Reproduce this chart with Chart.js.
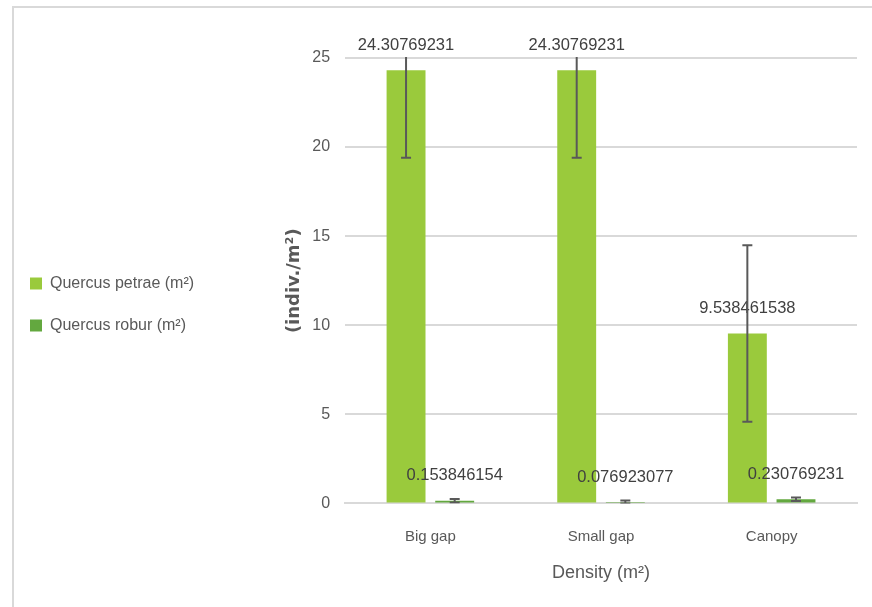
<!DOCTYPE html>
<html>
<head>
<meta charset="utf-8">
<script src="https://cdn.jsdelivr.net/npm/chart.js@4.4.1/dist/chart.umd.min.js"></script>
<style>
body { margin: 0; background: #fff; }
#wrap { position: relative; width: 872px; height: 607px; }
#frame { position: absolute; left: 12px; top: 6px; right: 0; bottom: 0; border-left: 2px solid #d9d9d9; border-top: 2px solid #d9d9d9; pointer-events: none; }
</style>
</head>
<body>
<div id="wrap">
    <canvas id="densityChart" width="872" height="607"></canvas>
    <div id="frame"></div>
</div>
<script>
// values
const categories = ['Big gap', 'Small gap', 'Canopy'];
const petraeValues = [24.30769231, 24.30769231, 9.538461538];
const roburValues = [0.153846154, 0.076923077, 0.230769231];
const petraeErrors = [4.9, 4.9, 4.95];
const roburErrors = [0.1, 0.08, 0.1];
const yTicks = [0, 5, 10, 15, 20, 25];

const fontFamily = "'Liberation Sans', Arial, sans-serif";
Chart.defaults.font.family = fontFamily;
Chart.defaults.color = '#595959';

// value labels above each bar
const valueLabels = {
    id: 'valueLabels',
    afterDatasetsDraw(chart) {
        const ctx = chart.ctx;
        ctx.save();
        ctx.font = '16.5px ' + fontFamily;
        ctx.fillStyle = '#404040';
        ctx.textAlign = 'center';
        ctx.textBaseline = 'middle';
        chart.data.datasets.forEach((ds, i) => {
            chart.getDatasetMeta(i).data.forEach((bar, j) => {
                ctx.fillText(String(ds.data[j]), bar.x, bar.y - 25);
            });
        });
        ctx.restore();
    }
};

// error bars, clipped to the plot area like in the original
const errorBars = {
    id: 'errorBars',
    afterDatasetsDraw(chart) {
        const {ctx, chartArea, scales: {y}} = chart;
        ctx.save();
        ctx.beginPath();
        ctx.rect(chartArea.left, chartArea.top - 1, chartArea.right - chartArea.left, chartArea.bottom - chartArea.top + 1);
        ctx.clip();
        ctx.strokeStyle = '#595959';
        ctx.lineWidth = 2;
        chart.data.datasets.forEach((ds, i) => {
            chart.getDatasetMeta(i).data.forEach((bar, j) => {
                const v = ds.data[j];
                const e = ds.errors[j];
                const top = y.getPixelForValue(v + e);
                const bot = y.getPixelForValue(v - e);
                ctx.beginPath();
                ctx.moveTo(bar.x, top);
                ctx.lineTo(bar.x, bot);
                ctx.moveTo(bar.x - 5, top);
                ctx.lineTo(bar.x + 5, top);
                ctx.moveTo(bar.x - 5, bot);
                ctx.lineTo(bar.x + 5, bot);
                ctx.stroke();
            });
        });
        ctx.restore();
    }
};

const ctx = document.getElementById('densityChart').getContext('2d');
new Chart(ctx, {
    type: 'bar',
    data: {
        labels: categories,
        datasets: [{
            label: 'Quercus petrae (m²)',
            data: petraeValues,
            errors: petraeErrors,
            backgroundColor: '#9aca3c',
            barPercentage: 0.8,
            categoryPercentage: 0.57
        }, {
            label: 'Quercus robur (m²)',
            data: roburValues,
            errors: roburErrors,
            backgroundColor: '#63a83f',
            barPercentage: 0.8,
            categoryPercentage: 0.57
        }]
    },
    options: {
        responsive: false,
        animation: false,
        devicePixelRatio: 1,
        layout: {
            padding: { left: 4, right: 15, top: 25, bottom: 23 }
        },
        plugins: {
            // empty title only used as a spacer above the plot, not under the legend
            title: {
                display: true,
                text: ' ',
                fullSize: false,
                font: { size: 2 },
                padding: { top: 30.6, bottom: 0 }
            },
            legend: {
                position: 'left',
                labels: {
                    boxWidth: 12,
                    boxHeight: 12,
                    padding: 26,
                    color: '#595959',
                    font: { size: 16 }
                }
            },
            tooltip: { enabled: false }
        },
        scales: {
            x: {
                grid: { display: false, drawTicks: false },
                border: { display: true, color: '#d9d9d9', width: 2 },
                ticks: { padding: 24, color: '#595959', font: { size: 15 } },
                title: {
                    display: true,
                    text: 'Density (m²)',
                    color: '#595959',
                    font: { size: 18 },
                    padding: { top: -7, bottom: 0 }
                }
            },
            y: {
                min: 0,
                max: 25,
                afterBuildTicks(scale) {
                    scale.ticks = yTicks.map(v => ({ value: v }));
                },
                afterFit(scale) {
                    scale.width = 141;
                },
                grid: { color: '#d9d9d9', lineWidth: 2, drawTicks: false },
                border: { display: false },
                ticks: { padding: 15, color: '#595959', font: { size: 16 } },
                title: {
                    display: true,
                    text: '(indiv./m²)',
                    color: '#595959',
                    font: { family: "'DejaVu Sans', sans-serif", size: 18, weight: 'bold' },
                    padding: { top: 79, bottom: 7 }
                }
            }
        }
    },
    plugins: [valueLabels, errorBars]
});
</script>
</body>
</html>
